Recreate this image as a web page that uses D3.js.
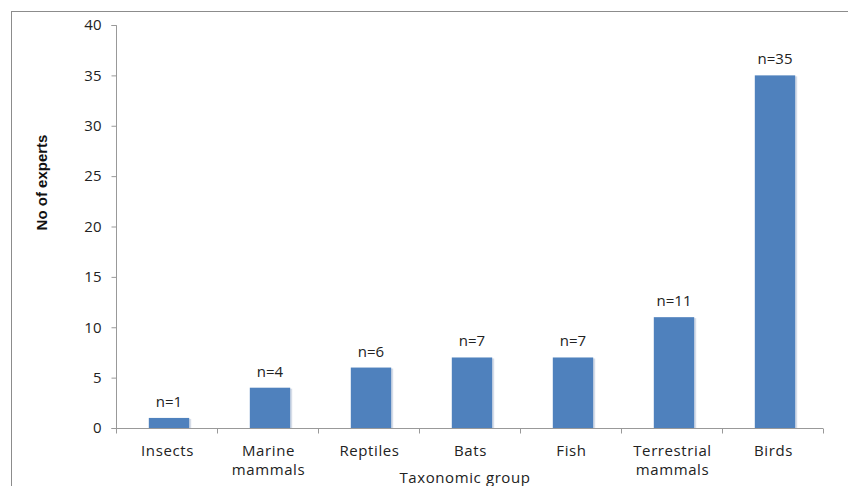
<!DOCTYPE html>
<html lang="en">
<head>
  <meta charset="UTF-8">
  <title>Experts by taxonomic group</title>
  <style>
    body { margin: 0; background: #fff; }
    svg { display: block; font-family: "Open Sans", "Liberation Sans", sans-serif; }
    .tick text { fill: #222; }
  </style>
</head>
<body>
  <svg width="848" height="486"></svg>
  <script src="https://d3js.org/d3.v7.min.js"></script>
  <script>
// Chart data
const groups = [["Insects"], ["Marine", "mammals"], ["Reptiles"], ["Bats"], ["Fish"], ["Terrestrial", "mammals"], ["Birds"]];
const experts = [1, 4, 6, 7, 7, 11, 35];
const yTicks = [0, 5, 10, 15, 20, 25, 30, 35, 40];

const margin = { top: 25, right: 25, bottom: 58, left: 116 },
      width = 823 - margin.left,
      height = 428 - margin.top;

const svgRoot = d3.select("svg");

// outer chart frame (runs off the right and bottom edges)
svgRoot.append("rect")
  .attr("x", 11.5).attr("y", 11.5)
  .attr("width", 900).attr("height", 600)
  .attr("fill", "none")
  .attr("stroke", "#8c8c8c");

const svg = svgRoot.append("g")
  .attr("transform", `translate(${margin.left},${margin.top})`);

const keys = groups.map(g => g.join(" "));

const x = d3.scaleBand()
  .domain(keys)
  .range([0, width])
  .paddingInner(0.6)
  .paddingOuter(0.3);

const y = d3.scaleLinear()
  .domain([0, 40])
  .range([height, 0]);

const shift = 2.5; // bars sit a touch right of the category centre

// Y axis
const yAxis = svg.append("g")
  .attr("transform", "translate(0.5,0)")
  .call(d3.axisLeft(y).tickValues(yTicks).tickSize(5).tickPadding(10));
yAxis.select(".domain").attr("stroke", "#999").attr("d", `M-5,${y(40) + 0.5}H0V${height + 0.5}H-5`);
yAxis.selectAll(".tick line").attr("stroke", "#999");
yAxis.selectAll(".tick text").attr("font-size", 15).attr("font-family", "Open Sans, sans-serif");

// X axis: ticks between categories
const xAxis = svg.append("g")
  .attr("transform", `translate(0,${height + 0.5})`);
xAxis.append("line")
  .attr("x1", 0).attr("x2", width)
  .attr("stroke", "#999");
const step = x.step();
const bounds = d3.range(keys.length + 1).map(i => x(keys[0]) - step * x.paddingOuter() + i * step);
xAxis.selectAll(".xt")
  .data(bounds)
  .join("line")
  .attr("x1", d => Math.round(d) + 0.5).attr("x2", d => Math.round(d) + 0.5)
  .attr("y1", 0).attr("y2", 5)
  .attr("stroke", "#999");

// category labels
const catLabels = xAxis.selectAll(".cat")
  .data(groups)
  .join("text")
  .attr("class", "cat")
  .attr("text-anchor", "middle")
  .attr("font-size", 15)
  .attr("letter-spacing", 0.6)
  .attr("fill", "#222")
  .attr("transform", (d, i) => `translate(${x(keys[i]) + x.bandwidth() / 2 + 1},0)`);
catLabels.selectAll("tspan")
  .data(d => d)
  .join("tspan")
  .attr("x", 0)
  .attr("y", (d, i) => 27 + i * 19)
  .text(d => d);

// bars with a faint shadow on the right
svg.selectAll(".shadow")
  .data(experts)
  .join("rect")
  .attr("x", (d, i) => x(keys[i]) + shift + 2)
  .attr("y", d => y(d) + 1)
  .attr("width", x.bandwidth())
  .attr("height", d => height - y(d) - 1)
  .attr("fill", "#d6dde8");

svg.selectAll(".bar")
  .data(experts)
  .join("rect")
  .attr("class", "bar")
  .attr("x", (d, i) => x(keys[i]) + shift)
  .attr("y", d => y(d))
  .attr("width", x.bandwidth())
  .attr("height", d => height - y(d))
  .attr("fill", "#4f81bd");

// value labels
svg.selectAll(".val")
  .data(experts)
  .join("text")
  .attr("text-anchor", "middle")
  .attr("font-size", 15)
  .attr("fill", "#222")
  .attr("x", (d, i) => x(keys[i]) + x.bandwidth() / 2 + shift)
  .attr("y", d => y(d) - 11)
  .text(d => "n=" + d);

// axis titles
svg.append("text")
  .attr("text-anchor", "middle")
  .attr("font-size", 15)
  .attr("letter-spacing", 0.6)
  .attr("fill", "#222")
  .attr("x", 349)
  .attr("y", height + 55)
  .text("Taxonomic group");

svg.append("text")
  .attr("text-anchor", "middle")
  .attr("font-size", 15)
  .attr("font-weight", "bold")
  .attr("font-family", "Liberation Sans, Arial, sans-serif")
  .attr("fill", "#111")
  .attr("transform", `translate(-69,157.5) rotate(-90)`)
  .text("No of experts");
  </script>
</body>
</html>
